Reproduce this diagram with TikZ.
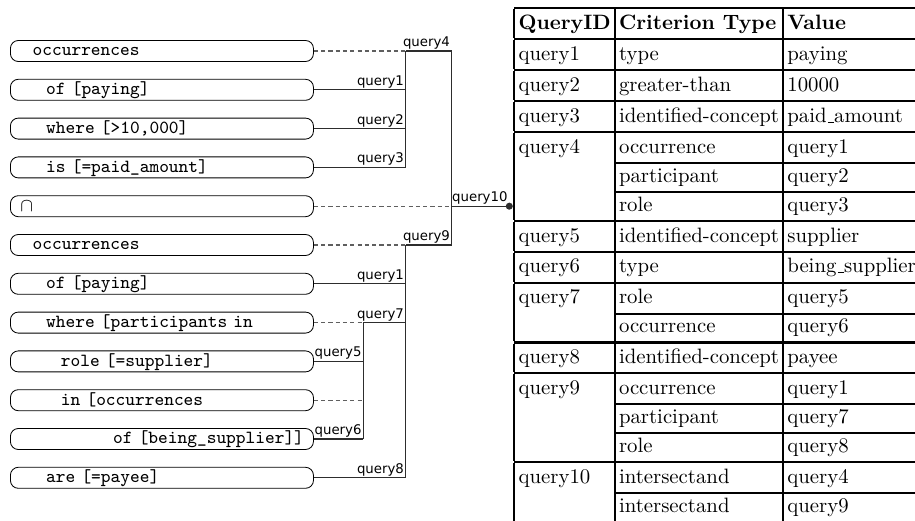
\documentclass[tikz,border=0pt]{standalone}
\usepackage{fontspec}
\newfontfamily\labelfont{DejaVu Sans}
\newcommand{\lowbar}{\leavevmode\kern.06em\vbox{\hrule width .3em}}
\definecolor{wiregray}{RGB}{45,45,45}
\definecolor{dashgray}{RGB}{95,95,95}
\tikzset{
  stmt/.style={draw, rounded corners=3.8pt, anchor=west, text width=145.7pt,
    minimum height=10.1pt, text height=7.4pt, text depth=2.7pt,
    inner xsep=0pt, inner ysep=0pt, align=left,
    font=\ttfamily\fontsize{8.9}{10}\selectfont},
  wire/.style={draw=wiregray, line width=0.5pt},
  dashwire/.style={draw=dashgray, line width=0.5pt, dash pattern=on 2pt off 1.5pt},
  qlabel/.style={anchor=south east, inner sep=0.6pt,
    font=\labelfont\fontsize{6.4}{7}\selectfont}
}

\begin{document}
\begin{tikzpicture}[x=0.4808pt, y=-0.4808pt]
  \clip (0,0) rectangle (915,521);

  % the query, one line per box
  \node [stmt] (occ1) at (10, 51) {\hspace*{10.7pt}occurrences};
  \node [stmt] (pay1) at (10, 89.8) {\hspace*{17.2pt}of [paying]};
  \node [stmt] (amt) at (10, 128.6) {\hspace*{17.2pt}where [>10,000]};
  \node [stmt] (paid) at (10, 167.4) {\hspace*{17.2pt}is [=paid\_amount]};
  \node [stmt] (cap) at (10, 206.2) {\hspace*{4.8pt}$\cap$};
  \node [stmt] (occ2) at (10, 245) {\hspace*{10.7pt}occurrences};
  \node [stmt] (pay2) at (10, 283.8) {\hspace*{17.2pt}of [paying]};
  \node [stmt] (part) at (10, 322.6) {\hspace*{17.2pt}where [participants in};
  \node [stmt] (supp) at (10, 361.4) {\hspace*{24.3pt}role [=supplier]};
  \node [stmt] (inocc) at (10, 400.2) {\hspace*{24.3pt}in [occurrences};
  \node [stmt] (being) at (10, 439) {\hspace*{49.4pt}of [being\_supplier]]};
  \node [stmt] (payee) at (10, 477.8) {\hspace*{17.2pt}are [=payee]};

  \coordinate (busC) at (363.3, 0);
  \coordinate (busA) at (405.7, 0);
  \coordinate (busB) at (451.7, 0);
  \coordinate (q10end) at (509.3, 206.2);

  % table of criteria
  \node [anchor=north west, inner sep=0pt] (tbl) at (514, 7) {%
    \setlength{\arrayrulewidth}{1pt}\setlength{\tabcolsep}{2pt}%
    \renewcommand{\arraystretch}{1.156}%
    \begin{tabular}{|l|l|l|}
      \hline
      \textbf{QueryID} & \textbf{Criterion Type} & \textbf{Value} \\ \hline
      query1 & type & paying \\ \hline
      query2 & greater-than & 10000 \\ \hline
      query3 & identified-concept & paid\lowbar amount \\ \hline
      query4 & occurrence & query1 \\ \cline{2-3}
             & participant & query2 \\ \cline{2-3}
             & role & query3 \\ \hline
      query5 & identified-concept & supplier \\ \hline
      query6 & type & being\lowbar supplier \\ \hline
      query7 & role & query5 \\ \cline{2-3}
             & occurrence & query6 \\ \hline
      query8 & identified-concept & payee \\ \hline
      query9 & occurrence & query1 \\ \cline{2-3}
             & participant & query7 \\ \cline{2-3}
             & role & query8 \\ \hline
      query10 & intersectand & query4 \\ \cline{2-3}
              & intersectand & query9 \\ \hline
    \end{tabular}};

  % query4
  \draw [dashwire] (occ1.east) -- (occ1 -| busA) coordinate (occ1j);
  \draw [wire] (pay1.east) -- (pay1 -| busA) node [qlabel] {query1};
  \draw [wire] (amt.east) -- (amt -| busA) node [qlabel] {query2};
  \draw [wire] (paid.east) -- (paid -| busA) coordinate (paidj) node [qlabel] {query3};
  \draw [wire] (occ1j) -- (paidj);
  \draw [wire] (occ1j) -- (occ1 -| busB) coordinate (q4j) node [qlabel] {query4};

  % query10
  \draw [dashwire] (cap.east) -- (cap -| busB) coordinate (capj);
  \draw [wire] (capj) -- (q10end) node [qlabel] {query10};
  \fill [wiregray] (q10end) circle (1.7pt);

  % query9
  \draw [dashwire] (occ2.east) -- (occ2 -| busA) coordinate (occ2j);
  \draw [wire] (occ2j) -- (occ2 -| busB) coordinate (q9j) node [qlabel] {query9};
  \draw [wire] (q4j) -- (q9j);
  \draw [wire] (pay2.east) -- (pay2 -| busA) node [qlabel] {query1};
  \draw [dashwire] (part.east) -- (part -| busC) coordinate (partj);
  \draw [wire] (partj) -- (part -| busA) node [qlabel] {query7};
  \draw [wire] (supp.east) -- (supp -| busC) node [qlabel] {query5};
  \draw [dashwire] (inocc.east) -- (inocc -| busC);
  \draw [wire] (being.east) -- (being -| busC) coordinate (beingj) node [qlabel] {query6};
  \draw [wire] (partj) -- (beingj);
  \draw [wire] (payee.east) -- (payee -| busA) coordinate (payeej) node [qlabel] {query8};
  \draw [wire] (occ2j) -- (payeej);
\end{tikzpicture}
\end{document}
